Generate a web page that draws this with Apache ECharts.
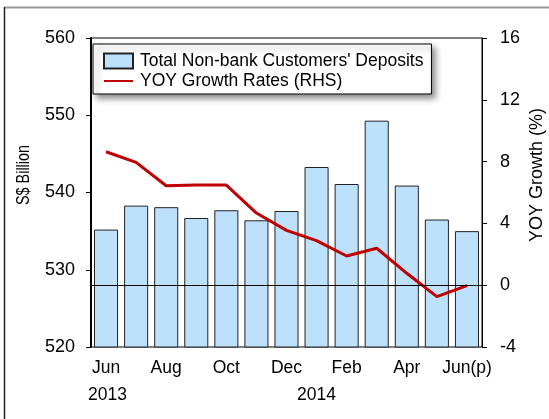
<!DOCTYPE html>
<html>
<head>
<meta charset="utf-8">
<script src="https://cdn.jsdelivr.net/npm/echarts@6/dist/echarts.min.js"></script>
<style>
  html, body { margin: 0; padding: 0; background: #fff; }
  #chart { width: 549px; height: 419px; }
</style>
</head>
<body>
<div id="chart"></div>
<script>
// months, Jun 2013 .. Jun 2014
const months = ['Jun', 'Jul', 'Aug', 'Sep', 'Oct', 'Nov', 'Dec', 'Jan', 'Feb', 'Mar', 'Apr', 'May', 'Jun(p)'];
// S$ billion
const deposits = [535.2, 538.3, 538.1, 536.7, 537.7, 536.4, 537.6, 543.3, 541.1, 549.3, 540.9, 536.5, 535.0];
// yoy %, right axis
const yoyGrowth = [8.64, 7.95, 6.44, 6.49, 6.48, 4.67, 3.55, 2.88, 1.89, 2.39, 0.77, -0.74, -0.03];
const yearLabels = ['2013', '2014'];

const font = 'Arial, "Liberation Sans", sans-serif';
const chart = echarts.init(document.getElementById('chart'));

const option = {
  backgroundColor: '#fff',
  animation: false,
  textStyle: { fontFamily: font },
  grid: { left: 91, right: 67, top: 38, bottom: 72, show: true, borderColor: '#000', borderWidth: 1 },
  legend: {
    left: 93, top: 44,
    orient: 'vertical',
    itemWidth: 29, itemHeight: 15, itemGap: 2,
    padding: [8, 8, 4, 10],
    backgroundColor: '#fff',
    borderColor: '#000', borderWidth: 1, borderRadius: 0,
    shadowBlur: 6, shadowOffsetX: 4, shadowOffsetY: 4, shadowColor: 'rgba(0,0,0,0.45)',
    textStyle: { fontSize: 17.5, color: '#000', fontFamily: font, padding: [0, 0, 0, 2] },
    data: [
      { name: "Total Non-bank Customers' Deposits", icon: 'rect' },
      { name: 'YOY Growth Rates (RHS)', itemStyle: { opacity: 0 } }
    ]
  },
  xAxis: {
    type: 'category',
    data: months,
    axisLine: { lineStyle: { color: '#000', width: 1 } },
    axisTick: { show: true, inside: true, length: 5, interval: 0, alignWithLabel: true, lineStyle: { color: '#000' } },
    axisLabel: { interval: 1, fontSize: 17.5, color: '#000', margin: 12, fontFamily: font }
  },
  yAxis: [
    {
      type: 'value', min: 520, max: 560, interval: 10,
      axisLine: { show: true, lineStyle: { color: '#000', width: 2 } },
      axisTick: { show: true, length: 5, lineStyle: { color: '#000' } },
      axisLabel: { fontSize: 18, color: '#000', margin: 16, fontFamily: font },
      splitLine: { show: false }
    },
    {
      type: 'value', min: -4, max: 16, interval: 4,
      axisLine: { show: true, lineStyle: { color: '#000', width: 1 } },
      axisTick: { show: true, length: 5, lineStyle: { color: '#000' } },
      axisLabel: { fontSize: 18, color: '#000', margin: 18, fontFamily: font },
      splitLine: { show: false }
    }
  ],
  series: [
    {
      name: "Total Non-bank Customers' Deposits",
      type: 'bar',
      data: deposits,
      barCategoryGap: '20%',
      itemStyle: { color: '#bde0fb', borderColor: '#222', borderWidth: 1 }
    },
    {
      name: 'YOY Growth Rates (RHS)',
      type: 'line',
      yAxisIndex: 1,
      data: yoyGrowth,
      symbol: 'none',
      lineStyle: { color: '#c00000', width: 3 },
      itemStyle: { color: '#c00000' },
      markLine: {
        silent: true,
        symbol: 'none',
        label: { show: false },
        lineStyle: { color: '#000', width: 1, type: 'solid' },
        data: [{ yAxis: 0 }]
      }
    }
  ],
  graphic: [
    // outer frame (top + left edges visible)
    { type: 'line', shape: { x1: 4, y1: 7.5, x2: 549, y2: 7.5 }, style: { stroke: '#999', lineWidth: 2 } },
    { type: 'line', shape: { x1: 4.5, y1: 7, x2: 4.5, y2: 419 }, style: { stroke: '#222', lineWidth: 1.5 } },
    // axis names (left one is condensed in the original)
    { type: 'text', x: 24, y: 175, rotation: Math.PI / 2, scaleX: 0.8,
      style: { text: 'S$ Billion', fontSize: 18, fill: '#000', fontFamily: font, align: 'center', verticalAlign: 'middle' } },
    { type: 'text', x: 537, y: 175, rotation: Math.PI / 2,
      style: { text: 'YOY Growth (%)', fontSize: 18, fill: '#000', fontFamily: font, align: 'center', verticalAlign: 'middle' } },
    // year labels
    { type: 'text', left: 88, top: 386, style: { text: yearLabels[0], fontSize: 17.5, fill: '#000', fontFamily: font } },
    { type: 'text', left: 297, top: 386, style: { text: yearLabels[1], fontSize: 17.5, fill: '#000', fontFamily: font } }
  ]
};

chart.setOption(option);
</script>
</body>
</html>
